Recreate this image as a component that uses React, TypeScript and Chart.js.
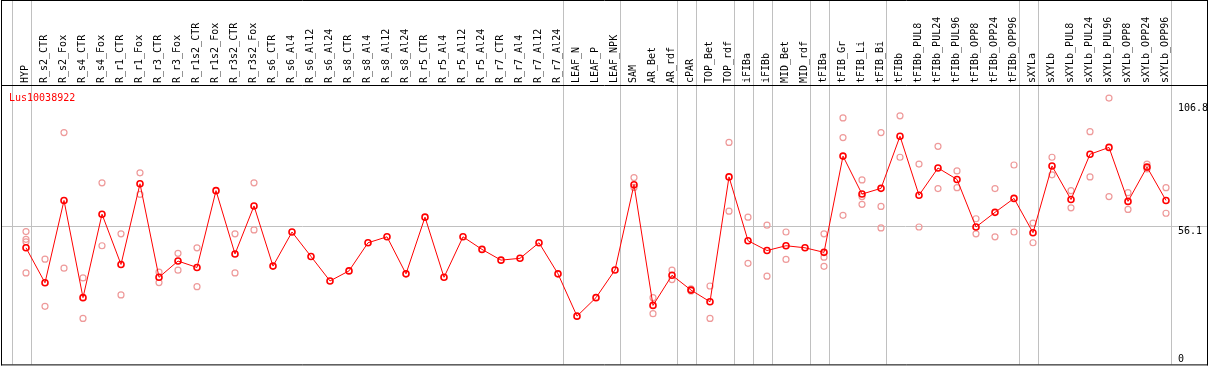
import React, { useEffect, useRef } from "react";
import { Chart, registerables } from "chart.js";

Chart.register(...registerables);

const chartTitle = "Lus10038922";

const categories = [
  "HYP", "R_s2_CTR", "R_s2_Fox", "R_s4_CTR", "R_s4_Fox", "R_r1_CTR", "R_r1_Fox", "R_r3_CTR", "R_r3_Fox",
  "R_r1s2_CTR", "R_r1s2_Fox", "R_r3s2_CTR", "R_r3s2_Fox", "R_s6_CTR", "R_s6_Al4", "R_s6_Al12", "R_s6_Al24",
  "R_s8_CTR", "R_s8_Al4", "R_s8_Al12", "R_s8_Al24", "R_r5_CTR", "R_r5_Al4", "R_r5_Al12", "R_r5_Al24",
  "R_r7_CTR", "R_r7_Al4", "R_r7_Al12", "R_r7_Al24", "LEAF_N", "LEAF_P", "LEAF_NPK", "SAM", "AR_Bet", "AR_rdf",
  "cPAR", "TOP_Bet", "TOP_rdf", "iFIBa", "iFIBb", "MID_Bet", "MID_rdf", "tFIBa", "tFIB_Gr", "tFIB_Li", "tFIB_Bi",
  "tFIBb", "tFIBb_PUL8", "tFIBb_PUL24", "tFIBb_PUL96", "tFIBb_OPP8", "tFIBb_OPP24", "tFIBb_OPP96",
  "sXYLa", "sXYLb", "sXYLb_PUL8", "sXYLb_PUL24", "sXYLb_PUL96", "sXYLb_OPP8", "sXYLb_OPP24", "sXYLb_OPP96",
];

const meanValues = [
  46.6, 31.3, 67.3, 24.8, 61.3, 39.3, 74.6, 33.7, 40.8,
  38.0, 71.6, 43.9, 64.9, 38.6, 53.5, 42.8, 32.1,
  36.5, 48.8, 51.4, 35.2, 60.0, 33.7, 51.4, 45.9,
  41.2, 42.0, 48.8, 35.2, 16.7, 24.8, 36.9, 74.2, 21.4, 34.6,
  28.1, 23.0, 77.6, 49.7, 45.4, 47.5, 46.6, 44.6, 86.7, 70.1, 72.6,
  95.4, 69.6, 81.5, 76.5, 55.7, 62.1, 68.2,
  53.2, 82.4, 67.7, 87.5, 90.5, 66.9, 81.9, 67.3,
];

const rep1 = [
  53.7, 41.6, 97.0, 33.4, 75.0, 52.7, 79.4, 36.0, 44.2,
  46.6, null, 52.7, 75.0, null, null, null, null,
  null, null, null, null, null, null, null, null,
  null, null, null, null, null, null, null, 77.3, 24.8, 36.8,
  28.6, 29.9, 92.7, 60.0, 56.5, 53.5, null, 52.7, 103.4, 76.3, 97.0,
  104.3, 83.2, 91.0, 80.2, 59.3, 72.5, 82.8,
  57.4, 86.2, 71.6, 97.4, 112.1, 70.7, 83.2, 72.9,
];

const rep2 = [
  50.3, 21.0, 37.7, 15.7, 47.5, 26.0, 70.0, 31.4, 36.8,
  29.6, null, 35.6, 54.4, null, null, null, null,
  null, null, null, null, null, null, null, null,
  null, null, null, null, null, null, null, 73.0, 17.8, 32.7,
  27.7, 15.7, 62.6, 39.8, 34.2, 41.5, null, 42.5, 94.8, 69.0, 64.7,
  86.2, 55.7, 72.5, 72.9, 52.7, 51.4, 53.5,
  48.8, 78.5, 64.1, 77.6, 69.0, 63.4, 81.1, 61.7,
];

const rep3 = [
  49.2, null, null, null, null, null, null, null, null,
  null, null, null, null, null, null, null, null,
  null, null, null, null, null, null, null, null,
  null, null, null, null, null, null, null, null, null, null,
  null, null, null, null, null, null, null, 38.5, 60.8, 65.6, 55.3,
  null, null, null, null, null, null, null,
  null, null, null, null, null, null, null, null,
];

const rep4 = [
  35.6, null, null, null, null, null, null, null, null,
  null, null, null, null, null, null, null, null,
  null, null, null, null, null, null, null, null,
  null, null, null, null, null, null, null, null, null, null,
  null, null, null, null, null, null, null, null, null, null, null,
  null, null, null, null, null, null, null,
  null, null, null, null, null, null, null, null,
];

// index of last category of each group (separators drawn after them)
const groupEnds = [-1, 0, 28, 31, 34, 35, 37, 38, 39, 41, 42, 45, 52, 53, 60];

const yTickValues = [0, 56.1, 106.8];
const yTickLabels = ["0", "56.1", "106.8"];
const yGridValue = 56.1;
const yMin = -4.4;
const yMax = 117.8;

const FONT = "DejaVu Sans Mono";
const RED = "#ff0000";
const PINK = "#ee9a9a";
const GRAY = "#c0c0c0";

const framePlugin = {
  id: "frame",
  beforeDraw(chart: any) {
    const { ctx, chartArea, scales } = chart;
    const xs = scales.x;
    const ys = scales.y;
    ctx.save();
    ctx.strokeStyle = GRAY;
    ctx.lineWidth = 1;
    groupEnds.forEach((g) => {
      const px = Math.round(xs.getPixelForValue(g + 0.25)) + 0.5;
      ctx.beginPath();
      ctx.moveTo(px, 0);
      ctx.lineTo(px, chartArea.bottom);
      ctx.stroke();
    });
    const gy = Math.round(ys.getPixelForValue(yGridValue)) + 0.5;
    ctx.beginPath();
    ctx.moveTo(1, gy);
    ctx.lineTo(chart.width - 2, gy);
    ctx.stroke();
    ctx.restore();
  },
  afterDraw(chart: any) {
    const { ctx, chartArea, scales } = chart;
    const ys = scales.y;
    const W = chart.width;
    ctx.save();
    ctx.strokeStyle = "#000";
    ctx.lineWidth = 1;
    ctx.beginPath();
    ctx.moveTo(1, 0.5);
    ctx.lineTo(W - 1, 0.5);
    ctx.moveTo(1.5, 0);
    ctx.lineTo(1.5, chartArea.bottom + 1);
    ctx.moveTo(W - 1.5, 0);
    ctx.lineTo(W - 1.5, chartArea.bottom + 1);
    ctx.moveTo(1, chartArea.top + 0.5);
    ctx.lineTo(W - 1, chartArea.top + 0.5);
    ctx.moveTo(1, chartArea.bottom + 0.5);
    ctx.lineTo(W - 1, chartArea.bottom + 0.5);
    ctx.stroke();

    ctx.font = `10px "${FONT}"`;
    ctx.textBaseline = "alphabetic";
    ctx.textAlign = "left";
    ctx.fillStyle = "#000";
    yTickValues.forEach((v, i) => {
      const py = ys.getPixelForValue(v);
      const isTop = i === yTickValues.length - 1;
      ctx.fillText(yTickLabels[i], chartArea.right + 12, isTop ? py + 0.5 : py + 7.5);
    });

    ctx.fillStyle = RED;
    ctx.fillText(chartTitle, 9, chartArea.top + 16);
    ctx.restore();
  },
};

export default function App() {
  const canvasRef = useRef<HTMLCanvasElement | null>(null);

  useEffect(() => {
    if (!canvasRef.current) return;
    const repStyle = {
      showLine: false,
      pointRadius: 3,
      pointBorderWidth: 1.2,
      pointBorderColor: PINK,
      pointBackgroundColor: "rgba(0,0,0,0)",
      borderColor: PINK,
      clip: false as any,
    };
    const chart = new Chart(canvasRef.current, {
      type: "line",
      data: {
        labels: categories,
        datasets: [
          {
            label: "mean",
            data: meanValues,
            borderColor: RED,
            borderWidth: 1,
            tension: 0,
            pointRadius: 3,
            pointBorderWidth: 1.6,
            pointBorderColor: RED,
            pointBackgroundColor: "rgba(0,0,0,0)",
            clip: false as any,
          },
          { label: "rep1", data: rep1, ...repStyle },
          { label: "rep2", data: rep2, ...repStyle },
          { label: "rep3", data: rep3, ...repStyle },
          { label: "rep4", data: rep4, ...repStyle },
        ],
      },
      options: {
        responsive: false,
        animation: false,
        devicePixelRatio: 1,
        layout: { padding: { left: 26, right: 0, top: 0, bottom: 1 } },
        plugins: {
          legend: { display: false },
          tooltip: { enabled: false },
          title: { display: false },
        },
        scales: {
          x: {
            type: "category",
            position: "top",
            offset: false,
            grid: { display: false, drawTicks: false },
            border: { display: false },
            ticks: {
              autoSkip: false,
              maxRotation: 90,
              minRotation: 90,
              padding: 2,
              labelOffset: 11,
              color: "#000",
              font: { family: FONT, size: 10 },
            },
            afterFit: (scale: any) => {
              scale.height = 85;
              scale.paddingLeft = 0;
              scale.paddingRight = 0;
            },
          },
          y: {
            type: "linear",
            position: "right",
            min: yMin,
            max: yMax,
            grid: { display: false },
            border: { display: false },
            ticks: { display: false },
            afterBuildTicks: (scale: any) => {
              scale.ticks = yTickValues.map((v) => ({ value: v }));
            },
            afterFit: (scale: any) => {
              scale.width = 43;
            },
          },
        },
      },
      plugins: [framePlugin],
    });
    return () => chart.destroy();
  }, []);

  return (
    <div style={{ position: "absolute", left: 0, top: 0, width: 1209, height: 370, background: "#fff" }}>
      <canvas ref={canvasRef} width={1209} height={370} style={{ display: "block" }} />
    </div>
  );
}
